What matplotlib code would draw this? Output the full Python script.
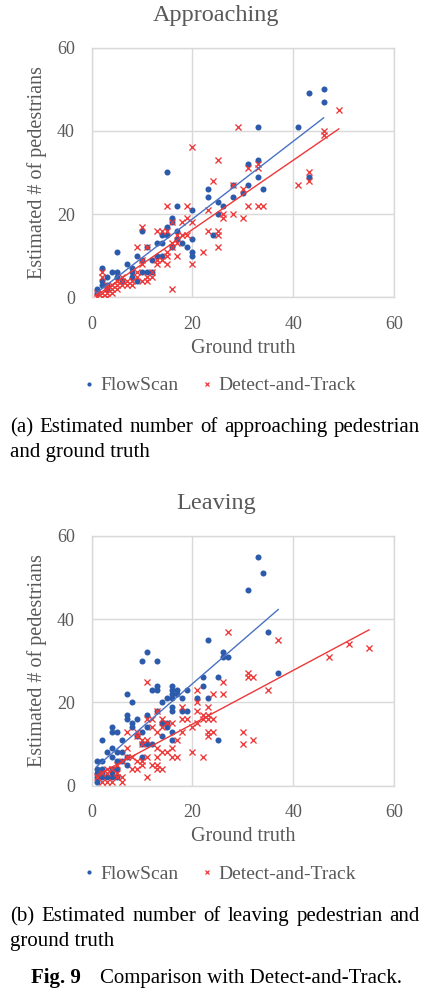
import numpy as np
import matplotlib
matplotlib.use("Agg")
import matplotlib.pyplot as plt
from matplotlib.lines import Line2D

plt.rcParams['font.family'] = ['Liberation Serif', 'DejaVu Serif']

# Approaching: (ground truth, estimate)
appr_flow_x = [1, 2, 2, 3, 3, 4, 5, 5, 5, 6, 7, 8, 8, 8, 9, 9, 10, 10, 10, 11, 11, 12, 12, 13, 13,
               14, 14, 14, 15, 15, 15, 16, 16, 16, 17, 17, 17, 18, 19, 20, 20, 20, 20, 23, 23, 24,
               25, 25, 26, 28, 28, 30, 31, 31, 33, 33, 33, 34, 41, 43, 46, 46, 43, 2, 3, 1]
appr_flow_y = [1, 7, 4, 5, 3, 6, 11, 6, 5, 4, 8, 7, 6, 5, 10, 4, 16, 9, 6, 12, 6, 9, 6, 13, 10,
               15, 13, 10, 30, 17, 15, 19, 18, 12, 22, 16, 14, 13, 12, 21, 14, 11, 10, 26, 24, 15,
               23, 20, 22, 27, 24, 25, 32, 27, 41, 33, 29, 26, 41, 49, 50, 47, 29, 3, 2, 2]
appr_dt_x = [29, 20, 25, 24, 28, 30, 31, 31, 15, 19, 19, 18, 23, 23, 25, 25, 25, 26, 26, 28, 30,
             22, 17, 20, 16, 10, 9, 13, 14, 15, 16, 17, 17, 16, 16, 15, 15, 15, 14, 13, 13, 12, 12,
             11, 11, 11, 10, 10, 10, 9, 9, 8, 7, 8, 6, 6, 5, 5, 4, 4, 4, 3, 3, 3, 2, 2, 2, 1, 2,
             18, 19, 20, 49, 46, 46, 43, 43, 41, 33, 33, 33, 34, 1, 3, 5, 6, 7]
appr_dt_y = [41, 36, 33, 28, 27, 26, 31, 22, 22, 22, 19, 18, 21, 16, 16, 15, 12, 20, 19, 20, 19,
             11, 10, 8, 2, 17, 12, 16, 16, 16, 18, 15, 13, 13, 12, 11, 10, 8, 9, 9, 8, 5, 6,
             12, 5, 4, 9, 8, 4, 6, 5, 3, 3, 4, 5, 4, 4, 2, 3, 2, 1, 3, 2, 1, 6, 5, 1, 0, 0,
             15, 15, 18, 45, 40, 39, 30, 28, 27, 32, 31, 22, 22, 1, 0, 3, 3, 4]

# Leaving
leav_flow_x = [31, 23, 11, 10, 13, 26, 26, 27, 25, 22, 22, 21, 23, 19, 19, 18, 17, 17, 16, 16, 16,
               16, 15, 14, 13, 13, 12, 16, 16, 13, 14, 15, 16, 15, 14, 16, 11, 11, 9, 8, 7, 7, 7,
               8, 8, 9, 10, 10, 10, 11, 12, 6, 5, 4, 4, 2, 3, 4, 4, 5, 6, 5, 6, 7, 7, 1, 2, 1, 1,
               1, 1, 2, 2, 2, 3, 4, 4, 4, 5, 5, 18, 25, 33, 34, 35, 37]
leav_flow_y = [47, 35, 32, 30, 30, 32, 31, 31, 26, 26, 24, 21, 21, 23, 18, 21, 23, 22, 24, 23, 22,
               21, 21, 20, 24, 23, 23, 19, 18, 18, 15, 15, 13, 14, 12, 11, 17, 14, 16, 20, 22, 17, 16,
               15, 14, 12, 13, 10, 7, 10, 10, 11, 13, 14, 13, 11, 8, 9, 7, 8, 8, 6, 6, 7, 5, 6, 6, 4, 3,
               2, 1, 4, 3, 2, 2, 4, 3, 2, 4, 2, 18, 11, 55, 51, 37, 27]
leav_dt_x = [37, 51, 55, 47, 35, 31, 31, 32, 30, 30, 32, 27, 26, 24, 26, 21, 21, 23, 18, 21, 22,
             23, 24, 22, 23, 21, 20, 19, 18, 23, 24, 23, 20, 22, 17, 18, 16, 17, 16, 15, 14, 13,
             13, 13, 14, 13, 12, 13, 14, 15, 16, 14, 13, 11, 12, 11, 7, 9, 9, 10, 11, 10, 11, 12,
             11, 7, 7, 8, 9, 8, 9, 10, 6, 5, 4, 3, 2, 1, 2, 3, 4, 5, 6, 6, 5, 3, 10]
leav_dt_y = [35, 34, 33, 31, 23, 27, 26, 26, 13, 10, 11, 37, 25, 22, 22, 23, 20, 19, 19, 18, 17,
             17, 16, 16, 16, 15, 14, 16, 16, 13, 13, 12, 8, 7, 11, 13, 9, 7, 7, 8, 8, 9,
             7, 5, 4, 4, 14, 13, 14, 15, 15, 16, 18, 16, 16, 25, 13, 13, 12, 11, 11, 10, 7, 5,
             2, 9, 7, 7, 6, 4, 4, 5, 6, 5, 4, 4, 3, 2, 1, 1, 1, 2, 2, 1, 3, 3, 6]

ticks = [0, 20, 40, 60]
titles = ["Approaching", "Leaving"]
series_names = ["FlowScan", "Detect-and-Track"]
captions = [("(a) Estimated number of approaching pedestrian", "and ground truth"),
            ("(b) Estimated number of leaving pedestrian and", "ground truth")]

W, H = 422, 994
BLUE = '#2d5bab'
BLUE_LINE = '#4a72c4'
RED = '#ee3838'
GRAY = '#595959'
GRID = '#d9d9d9'


def fx(px):
    return px / W


def fy(py):
    return 1 - py / H


fig = plt.figure(figsize=(W / 100, H / 100), dpi=100)


def draw_panel(top_px, title, fx_data, fy_data, dx_data, dy_data):
    left, right, bottom = 91.5, 394.3, top_px + 250
    ax = fig.add_axes([fx(left), fy(bottom), (right - left) / W, 250 / H])
    ax.scatter(fx_data, fy_data, s=19, color=BLUE, marker='o', linewidths=0, zorder=3)
    ax.scatter(dx_data, dy_data, s=19, color=RED, marker='x', linewidths=0.95, zorder=4)
    # linear trend lines over the data range
    for xs, ys, c in [(fx_data, fy_data, BLUE_LINE), (dx_data, dy_data, RED)]:
        k, b = np.polyfit(xs, ys, 1)
        xx = np.array([min(xs), max(xs)])
        ax.plot(xx, k * xx + b, color=c, lw=1.0, zorder=5)
    ax.set_xlim(0, 60)
    ax.set_ylim(0, 60)
    ax.set_xticks(ticks)
    ax.set_yticks(ticks)
    ax.grid(True, color=GRID, lw=1.0)
    ax.set_axisbelow(True)
    for sp in ax.spines.values():
        sp.set_color(GRID)
        sp.set_linewidth(1.0)
    ax.tick_params(length=0, labelsize=13, labelcolor=GRAY)
    ax.tick_params(axis='x', pad=13)
    ax.tick_params(axis='y', pad=12)
    ax.set_xlabel("Ground truth", fontsize=14.5, color=GRAY)
    ax.xaxis.set_label_coords(0.5, -0.205)
    ax.xaxis.label.set_va('center')
    ax.set_ylabel("Estimated # of pedestrians", fontsize=14.5, color=GRAY)
    ax.yaxis.set_label_coords(-0.18, 0.5)
    ax.yaxis.label.set_va('center')
    fig.text(fx(216), fy(top_px - 32), title, fontsize=17.5, color=GRAY, ha='center', va='center')
    handles = [Line2D([], [], ls='none', marker='o', ms=3, color=BLUE, mew=0),
               Line2D([], [], ls='none', marker='x', ms=3.5, color=RED, mew=0.9)]
    fig.legend(handles, series_names, loc='center', bbox_to_anchor=(fx(220), fy(bottom + 88)),
               ncol=2, frameon=False, fontsize=14, labelcolor=GRAY, handlelength=0.5,
               handletextpad=0.3, columnspacing=1.25, borderpad=0)
    return ax


draw_panel(47.5, titles[0], appr_flow_x, appr_flow_y, appr_dt_x, appr_dt_y)
draw_panel(535.7, titles[1], leav_flow_x, leav_flow_y, leav_dt_x, leav_dt_y)

renderer = fig.canvas.get_renderer()


def justified(text, y_px, x0=10, x1=420, size=15):
    words = text.split()
    arts = [fig.text(0, fy(y_px), w, fontsize=size, va='center', ha='left') for w in words]
    widths = [a.get_window_extent(renderer).width for a in arts]
    gap = (x1 - x0 - sum(widths)) / (len(words) - 1)
    x = x0
    for a, w in zip(arts, widths):
        a.set_x(fx(x))
        x += w + gap


for (line1, line2), y in zip(captions, [428, 916.7]):
    justified(line1, y)
    fig.text(fx(10), fy(y + 25), line2, fontsize=15, va='center', ha='left')

fig.text(fx(30.7), fy(978), "Fig. 9", fontsize=15, fontweight='bold', va='center', ha='left')
fig.text(fx(100), fy(978), "Comparison with Detect-and-Track.", fontsize=15, va='center', ha='left')

fig.savefig("out.png", dpi=100)
